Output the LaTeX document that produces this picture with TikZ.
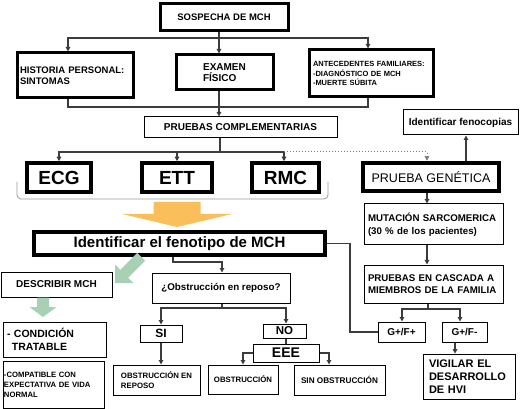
\documentclass[tikz,border=0pt]{standalone}
\usepackage{fontspec}
\setmainfont{Liberation Sans}
\usetikzlibrary{arrows.meta}
\definecolor{ln}{RGB}{60,60,60}
\definecolor{orng}{RGB}{250,190,90}
\definecolor{grn}{RGB}{168,208,180}
\newcommand\myfs[2]{\fontsize{#1}{#2}\selectfont}
\begin{document}
\begin{tikzpicture}[x=1pt,y=-1pt,
  thk/.style={draw=black, line width=3pt, inner sep=3pt},
  thn/.style={draw=black, line width=1pt, inner sep=3pt},
  conn/.style={draw=ln, line width=1.3pt},
  arr/.style={conn, -{Triangle[length=4.5pt,width=4.5pt]}},
  dotline/.style={draw=gray, line width=1pt, dotted, -{Triangle[length=4.5pt,width=4.5pt]}},
  brk/.style={draw=gray!80, line width=0.8pt, rounded corners=4pt}]
\useasboundingbox (0,0) rectangle (520,409);

% top level
\node[thk, minimum width=128pt, minimum height=27pt, font=\bfseries\myfs{9.5}{11}] (sos) at (224,17.5) {SOSPECHA DE MCH};
\node[thk, text width=110pt, minimum height=45pt, align=left, font=\bfseries\myfs{9.5}{10.5}] (hist) at (75,75.5) {HISTORIA PERSONAL:\\SINTOMAS};
\node[thk, minimum width=97pt, minimum height=35pt, align=left, font=\bfseries\myfs{10}{11.5}] (exam) at (224.5,72.5) {EXAMEN\\FÍSICO};
\node[thk, text width=116pt, inner sep=4pt, minimum height=47pt, align=left, font=\bfseries\myfs{7.5}{9.5}] (ante) at (371,73.5) {ANTECEDENTES FAMILIARES:\\-DIAGNÓSTICO DE MCH\\-MUERTE SÚBITA};
\node[thn, minimum width=193pt, minimum height=21pt, font=\bfseries\myfs{10}{11}] (pc) at (240.5,127.5) {PRUEBAS COMPLEMENTARIAS};

\node[thk, line width=3.5pt, minimum width=64pt, minimum height=29pt, font=\bfseries\myfs{19}{20}] (ecg) at (59,177.5) {ECG};
\node[thk, line width=3.5pt, minimum width=70pt, minimum height=29pt, font=\bfseries\myfs{19}{20}] (ett) at (177,177.5) {ETT};
\node[thk, line width=3.5pt, minimum width=67pt, minimum height=29pt, font=\bfseries\myfs{19}{20}] (rmc) at (285.5,177.5) {RMC};

\node[thk, line width=3.5pt, minimum width=291pt, minimum height=23pt, font=\bfseries\myfs{15}{16}] (fen) at (179.5,243.5) {Identificar el fenotipo de MCH};

% genetic branch
\node[thk, line width=4.5pt, minimum width=136pt, minimum height=28pt, font=\myfs{12.5}{14}] (gen) at (431,177) {PRUEBA GENÉTICA};
\node[thn, minimum width=115pt, minimum height=25pt, font=\bfseries\myfs{10}{11}] (feno) at (460.5,122.5) {Identificar fenocopias};
\node[thn, text width=131pt, inner sep=4pt, minimum height=41pt, align=left, font=\bfseries\myfs{9.7}{13}] (mut) at (433.5,224.5) {MUTACIÓN SARCOMERICA\\(30 \% de los pacientes)};
\node[thn, text width=131pt, inner sep=4pt, minimum height=38pt, align=left, font=\bfseries\myfs{9.7}{12.5}] (casc) at (433.5,284) {PRUEBAS EN CASCADA A\\MIEMBROS DE LA FAMILIA};
\node[thn, minimum width=47pt, minimum height=20pt, font=\bfseries\myfs{10}{11}] (gpp) at (401.5,332) {G+/F+};
\node[thn, minimum width=45pt, minimum height=20pt, font=\bfseries\myfs{10}{11}] (gpm) at (464.5,332) {G+/F-};
\node[thn, text width=80pt, inner sep=6pt, minimum height=42pt, align=left, font=\bfseries\myfs{11}{13}] (vig) at (469,377) {VIGILAR EL\\DESARROLLO\\DE HVI};

% left branch
\node[thn, minimum width=111pt, minimum height=25pt, font=\bfseries\myfs{10}{11}] (desc) at (56.5,284.5) {DESCRIBIR MCH};
\node[thn, text width=95pt, inner sep=4pt, minimum height=35pt, align=left, font=\bfseries\myfs{10.5}{12.5}] (cond) at (54.5,339.5) {- CONDICIÓN\\\hspace*{5pt}TRATABLE};
\node[thn, text width=99pt, inner sep=1pt, minimum height=47pt, align=left, font=\bfseries\myfs{7.7}{10}] (comp) at (53.5,384.5) {-COMPATIBLE CON\\EXPECTATIVA DE VIDA\\NORMAL};

% obstruction branch
\node[thn, minimum width=138pt, minimum height=30pt, font=\bfseries\myfs{9.8}{11}] (obs) at (221,288) {¿Obstrucción en reposo?};
\node[thn, minimum width=42pt, minimum height=17pt, inner sep=1pt, font=\bfseries\myfs{12}{13}] (si) at (161,333.5) {SI};
\node[thn, minimum width=43pt, minimum height=14pt, inner sep=1pt, font=\bfseries\myfs{11.5}{12}] (no) at (284.5,331) {NO};
\node[thn, minimum width=66pt, minimum height=18pt, inner sep=1pt, font=\bfseries\myfs{14}{14}] (eee) at (286,353) {EEE};
\node[thn, minimum width=87pt, minimum height=30pt, align=left, font=\bfseries\myfs{7.8}{9.5}] (oer) at (156.5,380) {OBSTRUCCIÓN EN\\REPOSO};
\node[thn, minimum width=70pt, minimum height=29pt, font=\bfseries\myfs{7.8}{9}] (ob) at (243,379.5) {OBSTRUCCIÓN};
\node[thn, minimum width=91pt, minimum height=30pt, font=\bfseries\myfs{8.2}{9}] (sob) at (339.5,380) {SIN OBSTRUCCIÓN};

% connectors top
\coordinate (a1) at (219,38);
\coordinate (h1) at (68,38);
\coordinate (h2) at (368,38);
\draw[conn] (sos.south -| a1) -- (a1);
\draw[arr] (a1) -- (exam.north -| a1);
\draw[arr] (a1) -- (h1) -- (h1 |- hist.north);
\draw[arr] (a1) -- (h2) -- (h2 |- ante.north);

\coordinate (b0) at (219,107);
\coordinate (b1) at (68,107);
\coordinate (b2) at (368,107);
\draw[conn] (b1 |- hist.south) -- (b1) -- (b2) -- (b2 |- ante.south);
\draw[arr] (exam.south -| b0) -- (pc.north -| b0);

\coordinate (c0) at (220,152);
\coordinate (c1) at (59,152);
\coordinate (c3) at (284,152);
\coordinate (c4) at (427,152);
\draw[conn] (pc.south -| c0) -- (c0);
\draw[arr] (c0) -- (c1) -- (c1 |- ecg.north);
\draw[arr] (ett.north |- c0) -- (ett.north);
\draw[arr] (c0) -- (c3) -- (c3 |- rmc.north);
\draw[dotline] (c3) -- (c4) -- (c4 |- gen.north);

% bracket
\draw[brk] (17,182) -- (17,199) -- (328,199) -- (328,182);

% orange block arrow
\fill[orng] (153.5,202) -- (200.5,202) -- (200.5,214) -- (232,214) -- (177,227) -- (122,214) -- (153.5,214) -- cycle;

% green block arrows
\fill[grn, shift={(115,283)}, rotate=225] (0,0) -- (-13,13) -- (-13,5.5) -- (-37,5.5) -- (-37,-5.5) -- (-13,-5.5) -- (-13,-13) -- cycle;
\fill[grn] (43,317) -- (29.5,307) -- (37,307) -- (37,297.5) -- (49,297.5) -- (49,307) -- (56.5,307) -- cycle;

% phenotype connectors
\coordinate (d1) at (350,0);
\draw[conn] (fen.east) -- (fen.east -| d1) -- (d1 |- gpp.west) -- (gpp.west);
\coordinate (e1) at (173,262);
\coordinate (e2) at (222,262);
\draw[arr] (fen.south -| e1) -- (e1) -- (e2) -- (e2 |- obs.north);

\coordinate (f0) at (222,308);
\coordinate (f1) at (161,308);
\coordinate (f2) at (286,308);
\draw[conn] (obs.south -| f0) -- (f0);
\draw[arr] (f0) -- (f1) -- (f1 |- si.north);
\draw[arr] (f0) -- (f2) -- (f2 |- no.north);
\draw[arr] (si.south) -- (si.south |- oer.north);
\draw[conn] (no.south -| f2) -- (eee.north -| f2);
\coordinate (g1) at (243,354);
\coordinate (g2) at (329,354);
\draw[arr] (eee.west) -- (eee.west -| g1) -- (g1 |- ob.north);
\draw[arr] (eee.east) -- (eee.east -| g2) -- (g2 |- sob.north);

% genetic connectors
\coordinate (k1) at (466,0);
\draw[arr] (gen.north -| k1) -- (feno.south -| k1);
\draw[arr] (gen.south -| c4) -- (mut.north -| c4);
\draw[arr] (mut.south -| c4) -- (casc.north -| c4);
\coordinate (m0) at (428,309);
\coordinate (m1) at (402,309);
\coordinate (m2) at (460,309);
\draw[conn] (casc.south -| m0) -- (m0);
\draw[arr] (m0) -- (m1) -- (m1 |- gpp.north);
\draw[arr] (m0) -- (m2) -- (m2 |- gpm.north);
\coordinate (n1) at (455,0);
\draw[arr] (gpm.south -| n1) -- (vig.north -| n1);
\end{tikzpicture}
\end{document}
